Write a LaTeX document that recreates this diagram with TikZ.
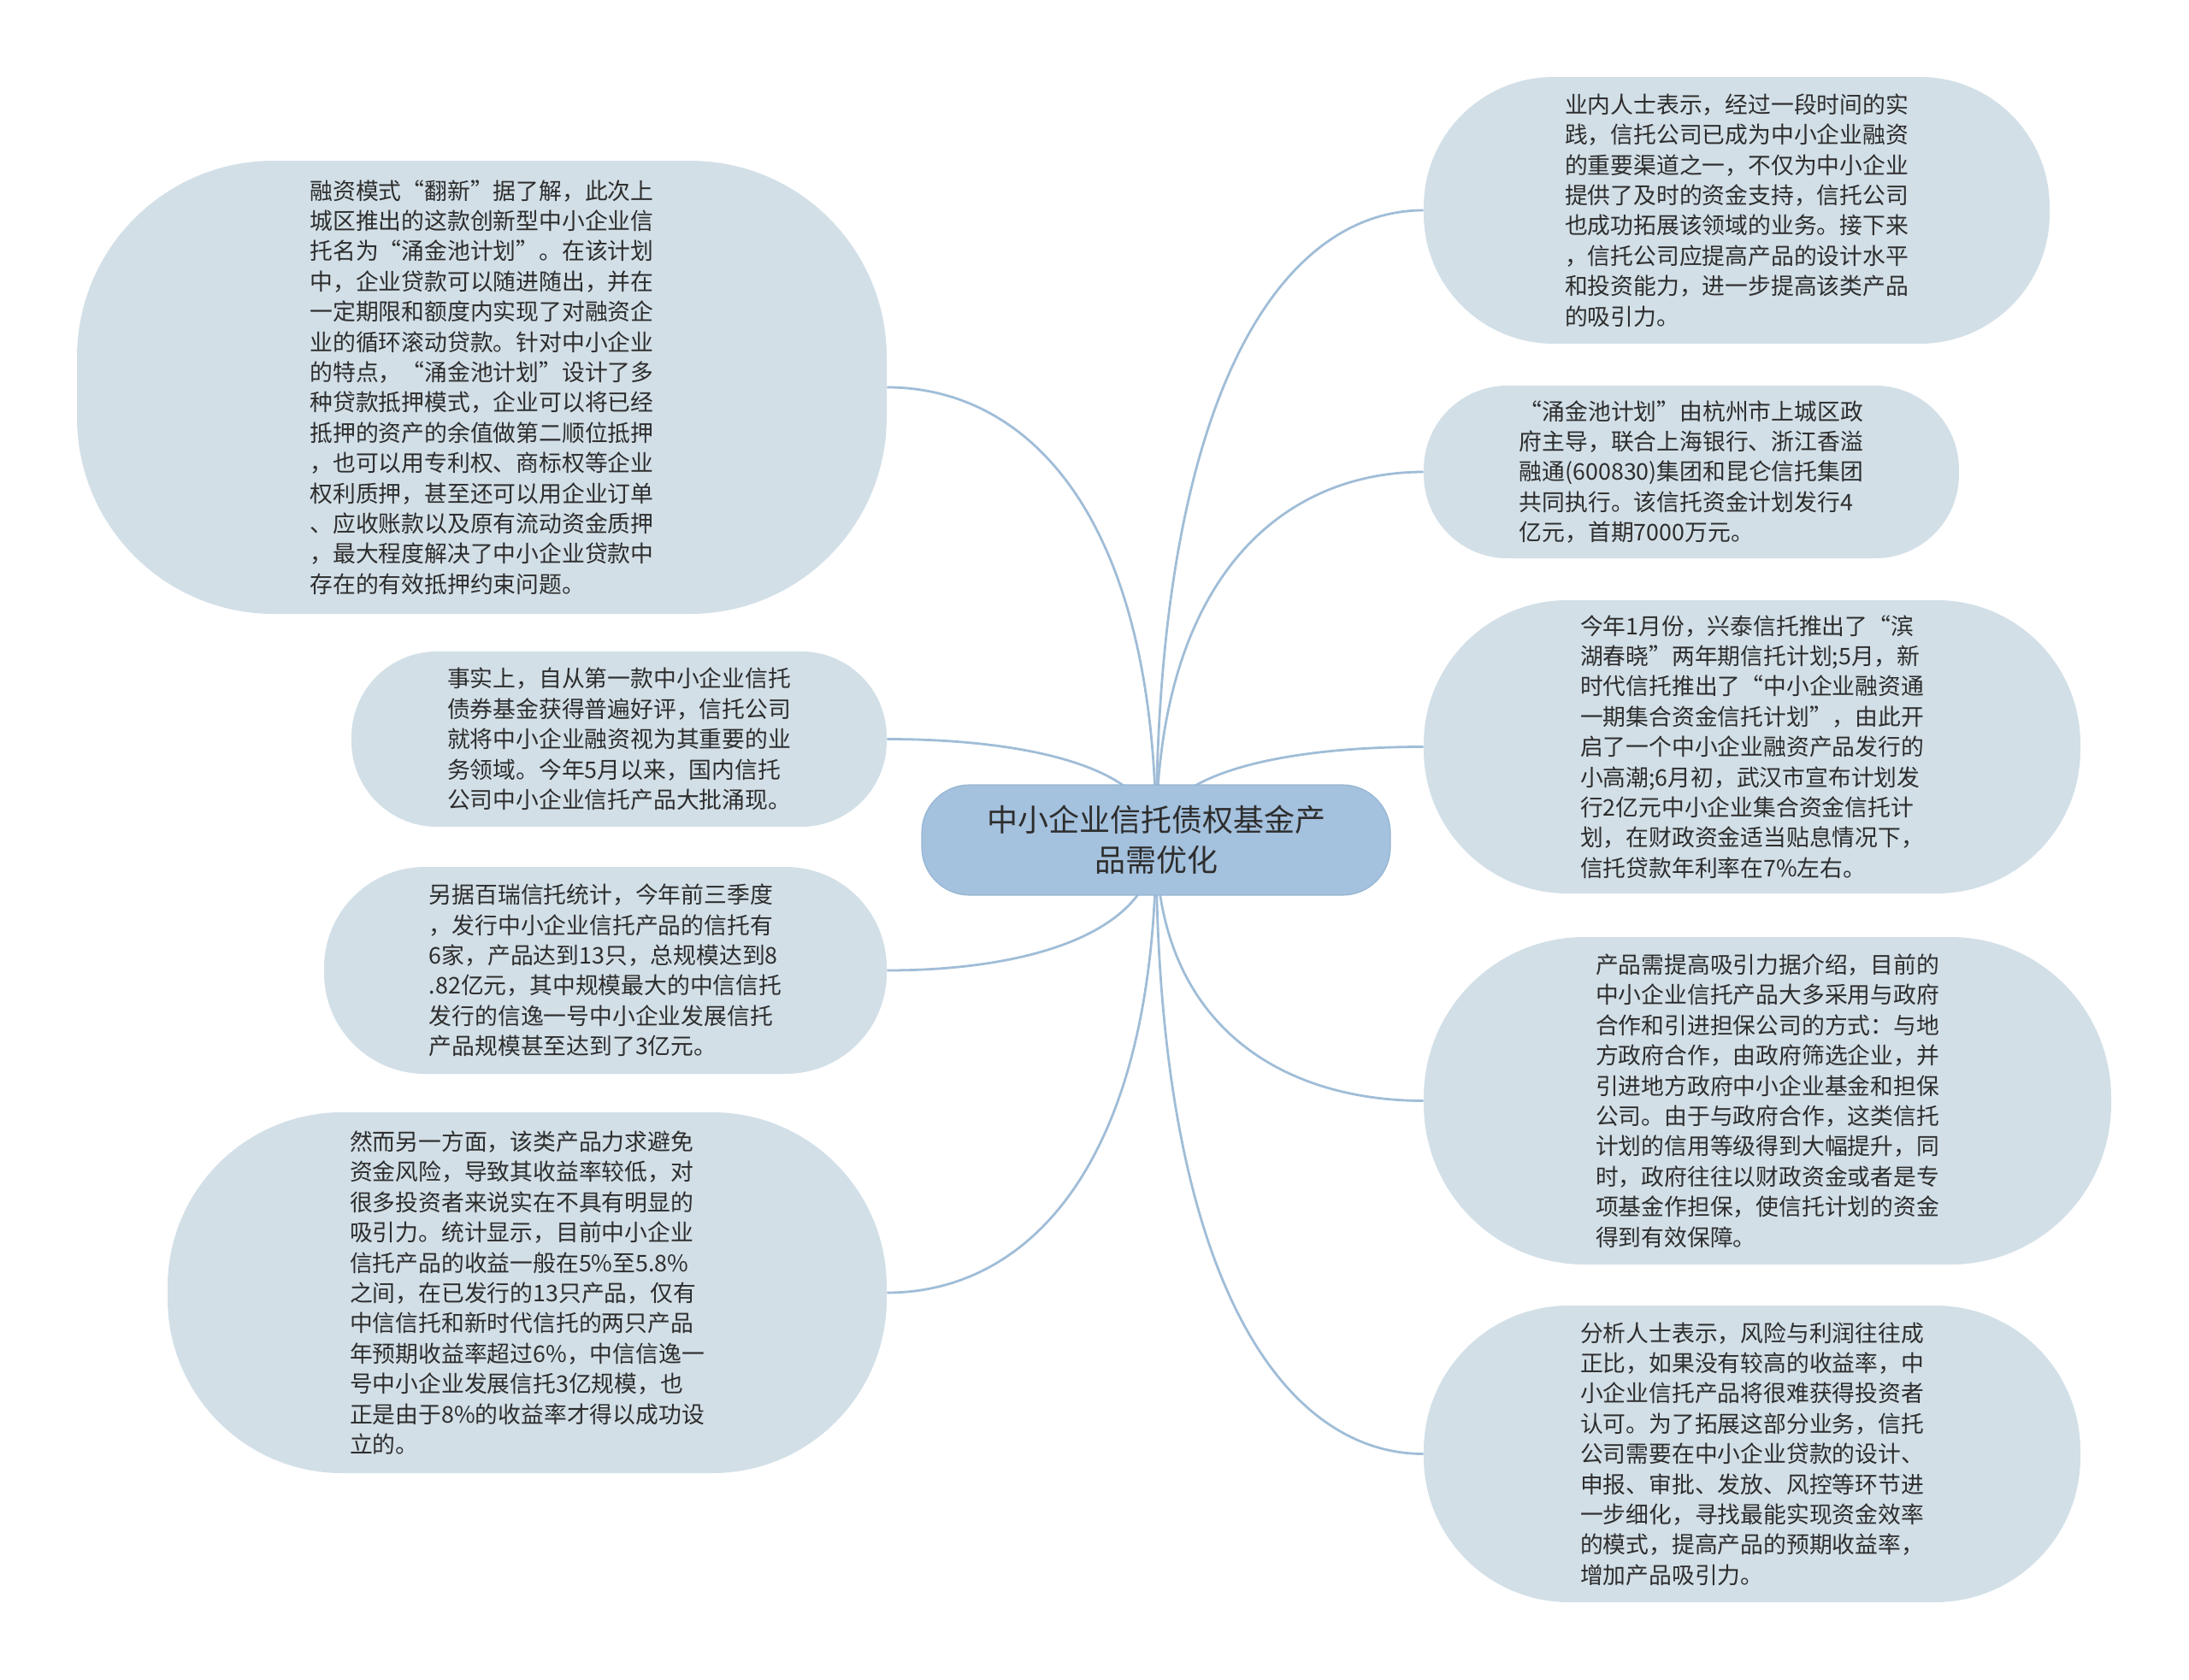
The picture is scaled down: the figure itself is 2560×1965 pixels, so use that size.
\documentclass[tikz,border=0pt]{standalone}
\usepackage{fontspec}
\setmainfont{Noto Sans CJK SC}
\usetikzlibrary{calc,backgrounds}
\definecolor{leaffill}{RGB}{210,223,231}
\definecolor{rootfill}{RGB}{164,193,221}
\definecolor{rootdraw}{RGB}{150,181,211}
\definecolor{linkcol}{RGB}{160,189,215}
\definecolor{txt}{RGB}{45,45,45}
\tikzset{
  leaf/.style={rectangle, fill=leaffill, inner sep=0pt, align=left, text=txt,
    font=\fontsize{13.4pt}{17.7pt}\selectfont},
  rootbox/.style={rectangle, fill=rootfill, draw=rootdraw, line width=0.6pt, inner sep=0pt,
    align=center, text=txt, font=\fontsize{18pt}{23.5pt}\selectfont,
    minimum width=274pt, minimum height=64.5pt, rounded corners=28pt},
  link/.style={draw=linkcol, line width=1.4pt}
}
\newcommand\mmlinkL[1]{\draw[link] (root.center) .. controls ($(root.center)!0.72!(root.center |- #1.east)$) and ($(#1.east)!0.52!(#1.east -| root.center)$) .. (#1.east);}
\newcommand\mmlinkR[1]{\draw[link] (root.center) .. controls ($(root.center)!0.72!(root.center |- #1.west)$) and ($(#1.west)!0.52!(#1.west -| root.center)$) .. (#1.west);}
\begin{document}
\begin{tikzpicture}[x=0.5pt,y=-0.5pt]
\useasboundingbox (0,0) rectangle (2560,1965);

\node[rootbox] (root) at (1352,982.5) {中小企业信托债权基金产\\品需优化};

\node[leaf, minimum width=473.5pt, minimum height=265pt, rounded corners=115pt] (L1) at (563.5,453) {融资模式“翻新”据了解，此次上\\城区推出的这款创新型中小企业信\\托名为“涌金池计划”。在该计划\\中，企业贷款可以随进随出，并在\\一定期限和额度内实现了对融资企\\业的循环滚动贷款。针对中小企业\\的特点，“涌金池计划”设计了多\\种贷款抵押模式，企业可以将已经\\抵押的资产的余值做第二顺位抵押\\，也可以用专利权、商标权等企业\\权利质押，甚至还可以用企业订单\\、应收账款以及原有流动资金质押\\，最大程度解决了中小企业贷款中\\存在的有效抵押约束问题。};

\node[leaf, minimum width=313pt, minimum height=102.5pt, rounded corners=50pt] (L2) at (724,864.5) {事实上，自从第一款中小企业信托\\债券基金获得普遍好评，信托公司\\就将中小企业融资视为其重要的业\\务领域。今年5月以来，国内信托\\公司中小企业信托产品大批涌现。};

\node[leaf, minimum width=329pt, minimum height=121pt, rounded corners=59pt] (L3) at (708,1135) {另据百瑞信托统计，今年前三季度\\，发行中小企业信托产品的信托有\\6家，产品达到13只，总规模达到8\\.82亿元，其中规模最大的中信信托\\发行的信逸一号中小企业发展信托\\产品规模甚至达到了3亿元。};

\node[leaf, minimum width=420.5pt, minimum height=211pt, rounded corners=102pt] (L4) at (616.5,1512) {然而另一方面，该类产品力求避免\\资金风险，导致其收益率较低，对\\很多投资者来说实在不具有明显的\\吸引力。统计显示，目前中小企业\\信托产品的收益一般在5\%至5.8\%\\之间，在已发行的13只产品，仅有\\中信信托和新时代信托的两只产品\\年预期收益率超过6\%，中信信逸一\\号中小企业发展信托3亿规模，也\\正是由于8\%的收益率才得以成功设\\立的。};

\node[leaf, minimum width=366pt, minimum height=156pt, rounded corners=76pt] (R1) at (2031,246) {业内人士表示，经过一段时间的实\\践，信托公司已成为中小企业融资\\的重要渠道之一，不仅为中小企业\\提供了及时的资金支持，信托公司\\也成功拓展该领域的业务。接下来\\，信托公司应提高产品的设计水平\\和投资能力，进一步提高该类产品\\的吸引力。};

\node[leaf, minimum width=313pt, minimum height=101pt, rounded corners=49pt] (R2) at (1978,552) {“涌金池计划”由杭州市上城区政\\府主导，联合上海银行、浙江香溢\\融通(600830)集团和昆仑信托集团\\共同执行。该信托资金计划发行4\\亿元，首期7000万元。};

\node[leaf, minimum width=384pt, minimum height=171.5pt, rounded corners=84pt] (R3) at (2049,873.5) {今年1月份，兴泰信托推出了“滨\\湖春晓”两年期信托计划;5月，新\\时代信托推出了“中小企业融资通\\一期集合资金信托计划”，由此开\\启了一个中小企业融资产品发行的\\小高潮;6月初，武汉市宣布计划发\\行2亿元中小企业集合资金信托计\\划，在财政资金适当贴息情况下，\\信托贷款年利率在7\%左右。};

\node[leaf, minimum width=402pt, minimum height=191.5pt, rounded corners=94pt] (R4) at (2067,1287.5) {产品需提高吸引力据介绍，目前的\\中小企业信托产品大多采用与政府\\合作和引进担保公司的方式：与地\\方政府合作，由政府筛选企业，并\\引进地方政府中小企业基金和担保\\公司。由于与政府合作，这类信托\\计划的信用等级得到大幅提升，同\\时，政府往往以财政资金或者是专\\项基金作担保，使信托计划的资金\\得到有效保障。};

\node[leaf, minimum width=384pt, minimum height=173.5pt, rounded corners=85pt] (R5) at (2049,1700.5) {分析人士表示，风险与利润往往成\\正比，如果没有较高的收益率，中\\小企业信托产品将很难获得投资者\\认可。为了拓展这部分业务，信托\\公司需要在中小企业贷款的设计、\\申报、审批、发放、风控等环节进\\一步细化，寻找最能实现资金效率\\的模式，提高产品的预期收益率，\\增加产品吸引力。};

\begin{pgfonlayer}{background}
\mmlinkL{L1}
\mmlinkL{L2}
\mmlinkL{L3}
\mmlinkL{L4}
\mmlinkR{R1}
\mmlinkR{R2}
\mmlinkR{R3}
\mmlinkR{R4}
\mmlinkR{R5}
\end{pgfonlayer}
\end{tikzpicture}
\end{document}
